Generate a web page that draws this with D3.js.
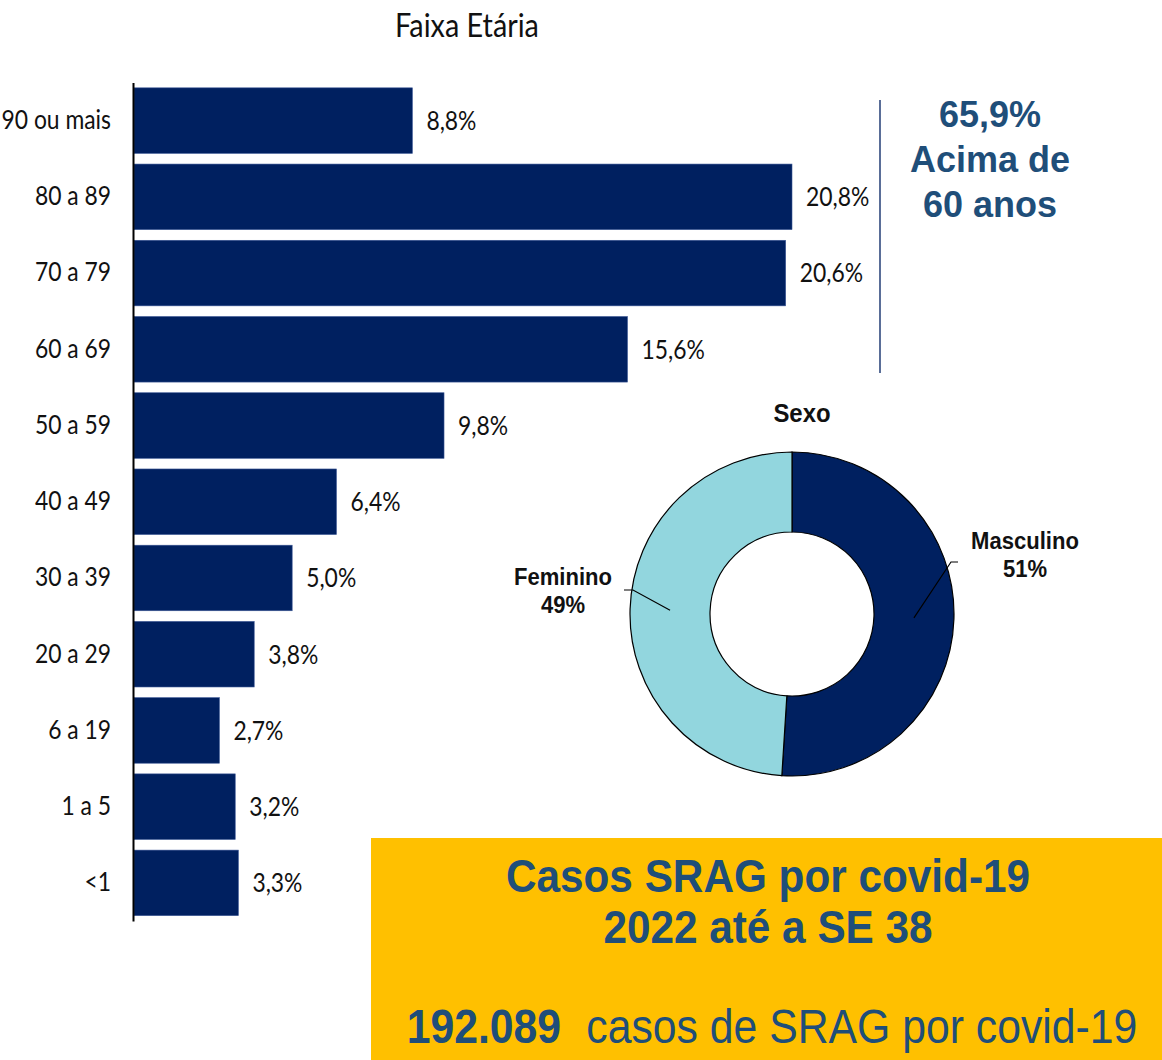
<!DOCTYPE html>
<html><head><meta charset="utf-8">
<script src="https://cdn.jsdelivr.net/npm/d3@7"></script>
<style>body{margin:0;background:#fff}svg{display:block}</style>
</head><body>
<svg id="c" width="1162" height="1060"></svg>
<script>
const categories = ["90 ou mais","80 a 89","70 a 79","60 a 69","50 a 59","40 a 49","30 a 39","20 a 29","6 a 19","1 a 5","<1"];
const values = [8.8,20.8,20.6,15.6,9.8,6.4,5.0,3.8,2.7,3.2,3.3];
const valueLabels = ["8,8%","20,8%","20,6%","15,6%","9,8%","6,4%","5,0%","3,8%","2,7%","3,2%","3,3%"];
const sexCategories = ["Masculino","Feminino"];
const sexValues = [51,49];
const sexLabels = ["51%","49%"];
const highlightLines = ["65,9%","Acima de","60 anos"];
const boxTitleLines = ["Casos SRAG por covid-19","2022 até a SE 38"];
const totalCases = "192.089";
const totalText = "casos de SRAG por covid-19";

const svg = d3.select("#c");
const navy = "#002060", textBlue = "#1F4E79";
const cond = 0.88;

// Bar chart
const x = d3.scaleLinear().domain([0, 20.8]).range([134, 792]);
const y = d3.scaleBand().domain(categories).range([82.5, 921]).paddingInner(0.14).paddingOuter(0.07);

svg.append("text").attr("transform","translate(467,37) scale(0.9,1)").attr("text-anchor","middle")
  .attr("font-family","Lato, sans-serif").attr("font-size",32).attr("fill","#111").text("Faixa Etária");

svg.append("g").selectAll("rect").data(values).join("rect")
  .attr("x", x(0)).attr("y",(d,i)=>y(categories[i]))
  .attr("width", d=>x(d)-x(0)).attr("height", y.bandwidth())
  .attr("fill", navy).attr("stroke","#3b5795").attr("stroke-width",0.6);

svg.append("g").selectAll("text").data(values).join("text")
  .attr("transform",(d,i)=>`translate(${x(d)+14},${y(categories[i])+y.bandwidth()/2}) scale(${cond},1)`)
  .attr("dy","0.36em").attr("font-family","Lato, sans-serif").attr("font-size",26).attr("fill","#111")
  .text((d,i)=>valueLabels[i]);

const ax = svg.append("g").attr("transform",`translate(${x(0)-1},0)`)
  .call(d3.axisLeft(y).tickSize(0).tickPadding(25));
ax.select(".domain").attr("stroke","#000").attr("stroke-width",2);
ax.selectAll(".tick text").attr("transform",`scale(${cond},1)`)
  .attr("font-family","Lato, sans-serif").attr("font-size",26).attr("fill","#111");

// Highlight annotation
svg.append("line").attr("x1",880).attr("x2",880).attr("y1",100).attr("y2",373)
  .attr("stroke",navy).attr("stroke-width",1.3);
svg.append("g").selectAll("text").data(highlightLines).join("text")
  .attr("x",990).attr("y",(d,i)=>127+i*45).attr("text-anchor","middle")
  .attr("font-family","Liberation Sans, Arial, sans-serif").attr("font-weight","bold")
  .attr("font-size",36).attr("fill",textBlue).text(d=>d);

// Donut
const cx = 792, cy = 614, rOut = 162, rIn = 82;
const pie = d3.pie().sort(null).value(d=>d);
const arcs = pie(sexValues);
const arc = d3.arc().innerRadius(rIn).outerRadius(rOut);
const g = svg.append("g").attr("transform",`translate(${cx},${cy})`);
g.selectAll("path").data(arcs).join("path").attr("d",arc)
  .attr("fill",(d,i)=>["#002060","#92D6DE"][i]).attr("stroke","#000").attr("stroke-width",1.2);

svg.append("text").attr("transform","translate(802,422) scale(0.92,1)").attr("text-anchor","middle")
  .attr("font-family","Liberation Sans, Arial, sans-serif").attr("font-weight","bold")
  .attr("font-size",26).attr("fill","#111").text("Sexo");

// leader lines and labels
const labelPos = [{dx:233, dy:-65, ex:159, ey:-52, tx:166}, {dx:-229, dy:-29, ex:-159, ey:-24, tx:-168}];
arcs.forEach((a,i)=>{
  const c = arc.centroid(a);
  const p = labelPos[i];
  g.append("polyline").attr("points",[[c[0],c[1]],[p.ex,p.ey],[p.tx,p.ey]].map(q=>q.join(",")).join(" "))
    .attr("fill","none").attr("stroke","#000").attr("stroke-width",1.2);
  const t = g.append("g").attr("transform",`translate(${p.dx},${p.dy}) scale(0.92,1)`)
    .append("text").attr("text-anchor","middle")
    .attr("font-family","Liberation Sans, Arial, sans-serif").attr("font-weight","bold")
    .attr("font-size",24).attr("fill","#111");
  t.append("tspan").attr("x",0).attr("y",0).text(sexCategories[i]);
  t.append("tspan").attr("x",0).attr("y",28).text(sexLabels[i]);
});

// Yellow box
svg.append("rect").attr("x",371).attr("y",838).attr("width",791).attr("height",222).attr("fill","#FFC000");
svg.append("g").selectAll("text").data(boxTitleLines).join("text")
  .attr("transform",(d,i)=>`translate(768,${892+i*51}) scale(0.9,1)`).attr("text-anchor","middle")
  .attr("font-family","Liberation Sans, Arial, sans-serif").attr("font-weight","bold")
  .attr("font-size",47).attr("fill",textBlue).text(d=>d);
const tt = svg.append("text").attr("transform","translate(772,1043) scale(0.9,1)").attr("text-anchor","middle")
  .attr("font-family","Liberation Sans, Arial, sans-serif").attr("font-size",47.5).attr("fill",textBlue);
tt.append("tspan").attr("font-weight","bold").text(totalCases);
tt.append("tspan").attr("dx",28).text(totalText);
</script>
</body></html>
